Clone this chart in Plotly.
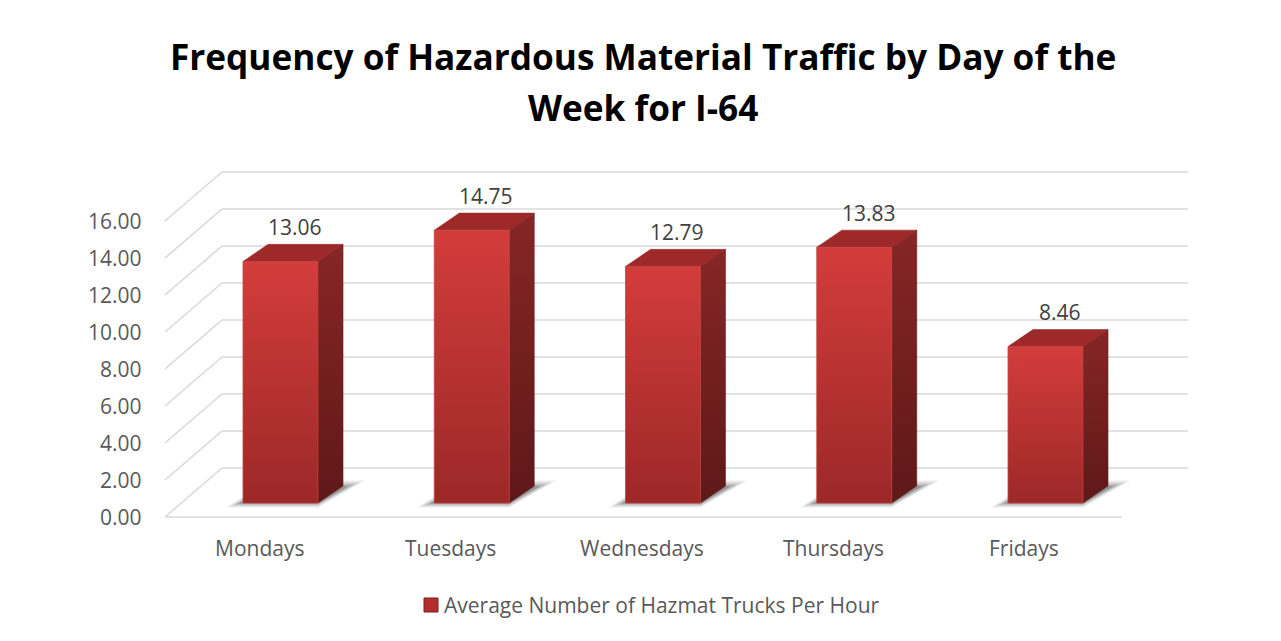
import plotly.graph_objects as go

# ---------------- data ----------------
days = ["Mondays", "Tuesdays", "Wednesdays", "Thursdays", "Fridays"]
values = [13.06, 14.75, 12.79, 13.83, 8.46]
tick_values = [0, 2, 4, 6, 8, 10, 12, 14, 16]
tick_labels = [f"{t:.2f}" for t in tick_values]
series_name = "Average Number of Hazmat Trucks Per Hour"
title_lines = ["Frequency of Hazardous Material Traffic by Day of the", "Week for I-64"]

# ---------------- layout / style constants ----------------
OFF = 8                         # page body margin of the browser
W, H = 1281 - OFF, 641 - OFF
PX_PER_CAT, X0_PX = 191.25, 280.5 - OFF     # horizontal scale (category units)
PX_PER_UNIT, Y0_PX = 18.5, 503.0 - OFF      # vertical scale (value units)
x_range = [(0 - X0_PX) / PX_PER_CAT, (W - X0_PX) / PX_PER_CAT]
y_range = [(Y0_PX - H) / PX_PER_UNIT, Y0_PX / PX_PER_UNIT]

HALF_W = 0.196                 # half bar width
DDX, DDY = 0.131, 0.92         # bar depth offset
FRONT_DY = -0.757              # floor front edge offset
BACK_DY = 1.892                # back wall offset
LEFT_FRONT, LEFT_BACK = -0.604, -0.306
RIGHT_FRONT, RIGHT_BACK = 4.40, 4.745

GRID = "#d9d9d9"
TXT = "#595959"
FONT = "Open Sans"
FS = 21


def px_x(p):
    return (p - OFF) / W


def px_y(p):
    return 1 - (p - OFF) / H


fig = go.Figure()

# ---------------- grid (walls / floor) ----------------
gx, gy = [], []
for t in tick_values:
    gx += [LEFT_BACK, RIGHT_BACK, None]
    gy += [t + BACK_DY, t + BACK_DY, None]
    gx += [LEFT_FRONT, LEFT_BACK, None]
    gy += [t + FRONT_DY, t + BACK_DY, None]
gx += [LEFT_FRONT, RIGHT_FRONT, None]
gy += [tick_values[0] + FRONT_DY, tick_values[0] + FRONT_DY, None]
fig.add_trace(go.Scatter(x=gx, y=gy, mode="lines", line=dict(color=GRID, width=1.6),
                         hoverinfo="skip", showlegend=False))

# ---------------- soft shadows under bars ----------------
SHADOW_LAYERS = [  # (extend left, extend right, down, up, alpha)
    (0.090, 0.115, 0.24, 0.30, 0.07),
    (0.068, 0.090, 0.17, 0.20, 0.10),
    (0.045, 0.060, 0.10, 0.10, 0.14),
    (0.022, 0.030, 0.04, 0.00, 0.18),
]
for i, v in enumerate(values):
    L, R = i - HALF_W, i + HALF_W
    for el, er, dn, up, alpha in SHADOW_LAYERS:
        sx = [L - el, R, R + DDX + er, L + DDX, L - el]
        sy = [-dn, -dn, DDY + up, DDY + up, -dn]
        fig.add_trace(go.Scatter(x=sx, y=sy, fill="toself", mode="none",
                                 fillcolor=f"rgba(0,0,0,{alpha})",
                                 hoverinfo="skip", showlegend=False))

# ---------------- 3D bars ----------------
for i, v in enumerate(values):
    L, R = i - HALF_W, i + HALF_W
    # side face
    fig.add_trace(go.Scatter(
        x=[R, R + DDX, R + DDX, R, R], y=[0, DDY, v + DDY, v, 0],
        fill="toself", mode="lines", line=dict(width=0.5, color="#5e1818"),
        fillgradient=dict(type="vertical", colorscale=[[0, "#5f1818"], [1, "#872626"]]),
        hoverinfo="skip", showlegend=False))
    # top face
    fig.add_trace(go.Scatter(
        x=[L, R, R + DDX, L + DDX, L], y=[v, v, v + DDY, v + DDY, v],
        fill="toself", mode="lines", line=dict(width=0.5, color="#8a2424"),
        fillcolor="#9d2a29", hoverinfo="skip", showlegend=False))
    # front face
    fig.add_trace(go.Scatter(
        x=[L, R, R, L, L], y=[0, 0, v, v, 0],
        fill="toself", mode="lines", line=dict(width=0.8, color="#c0403e"),
        fillgradient=dict(type="vertical", colorscale=[[0, "#9c2828"], [1, "#d33d3b"]]),
        name=series_name,
        hovertemplate=f"{days[i]}: {v:.2f}<extra></extra>", showlegend=False))

annotations = []
# value labels
for i, v in enumerate(values):
    annotations.append(dict(x=i + 0.075, y=v, text=f"{v:.2f}", showarrow=False,
                            yshift=34, font=dict(family=FONT, size=FS, color="#404040")))
# category labels
for i, d in enumerate(days):
    annotations.append(dict(x=i - 0.11, y=FRONT_DY, text=d, showarrow=False,
                            yshift=-31, font=dict(family=FONT, size=FS, color=TXT)))
# y tick labels
for t, lab in zip(tick_values, tick_labels):
    annotations.append(dict(x=LEFT_FRONT, y=t + FRONT_DY, text=lab, showarrow=False,
                            xanchor="right", xshift=-21,
                            font=dict(family=FONT, size=FS, color=TXT)))
# title (two lines)
for k, line in enumerate(title_lines):
    annotations.append(dict(xref="paper", yref="paper", x=px_x(643), y=px_y(56 + 51 * k),
                            text=f"<b>{line}</b>", showarrow=False, xanchor="center",
                            yanchor="middle", font=dict(family="Open Sans", size=35.2, color="#000000")))
# legend text
annotations.append(dict(xref="paper", yref="paper", x=px_x(442), y=px_y(605),
                        text=series_name, showarrow=False, xanchor="left", yanchor="middle",
                        font=dict(family=FONT, size=FS, color=TXT)))

shapes = [
    # legend key
    dict(type="rect", xref="paper", yref="paper",
         x0=px_x(424), x1=px_x(438), y0=px_y(612), y1=px_y(598),
         fillcolor="#b32d2c", line=dict(color="#7a1e1e", width=1)),
]

fig.update_layout(
    width=W, height=H, autosize=False,
    margin=dict(l=0, r=0, t=0, b=0),
    paper_bgcolor="white", plot_bgcolor="white",
    xaxis=dict(range=x_range, visible=False, fixedrange=True),
    yaxis=dict(range=y_range, visible=False, fixedrange=True),
    annotations=annotations,
    shapes=shapes,
    showlegend=False,
)

fig.write_html("out.html")
